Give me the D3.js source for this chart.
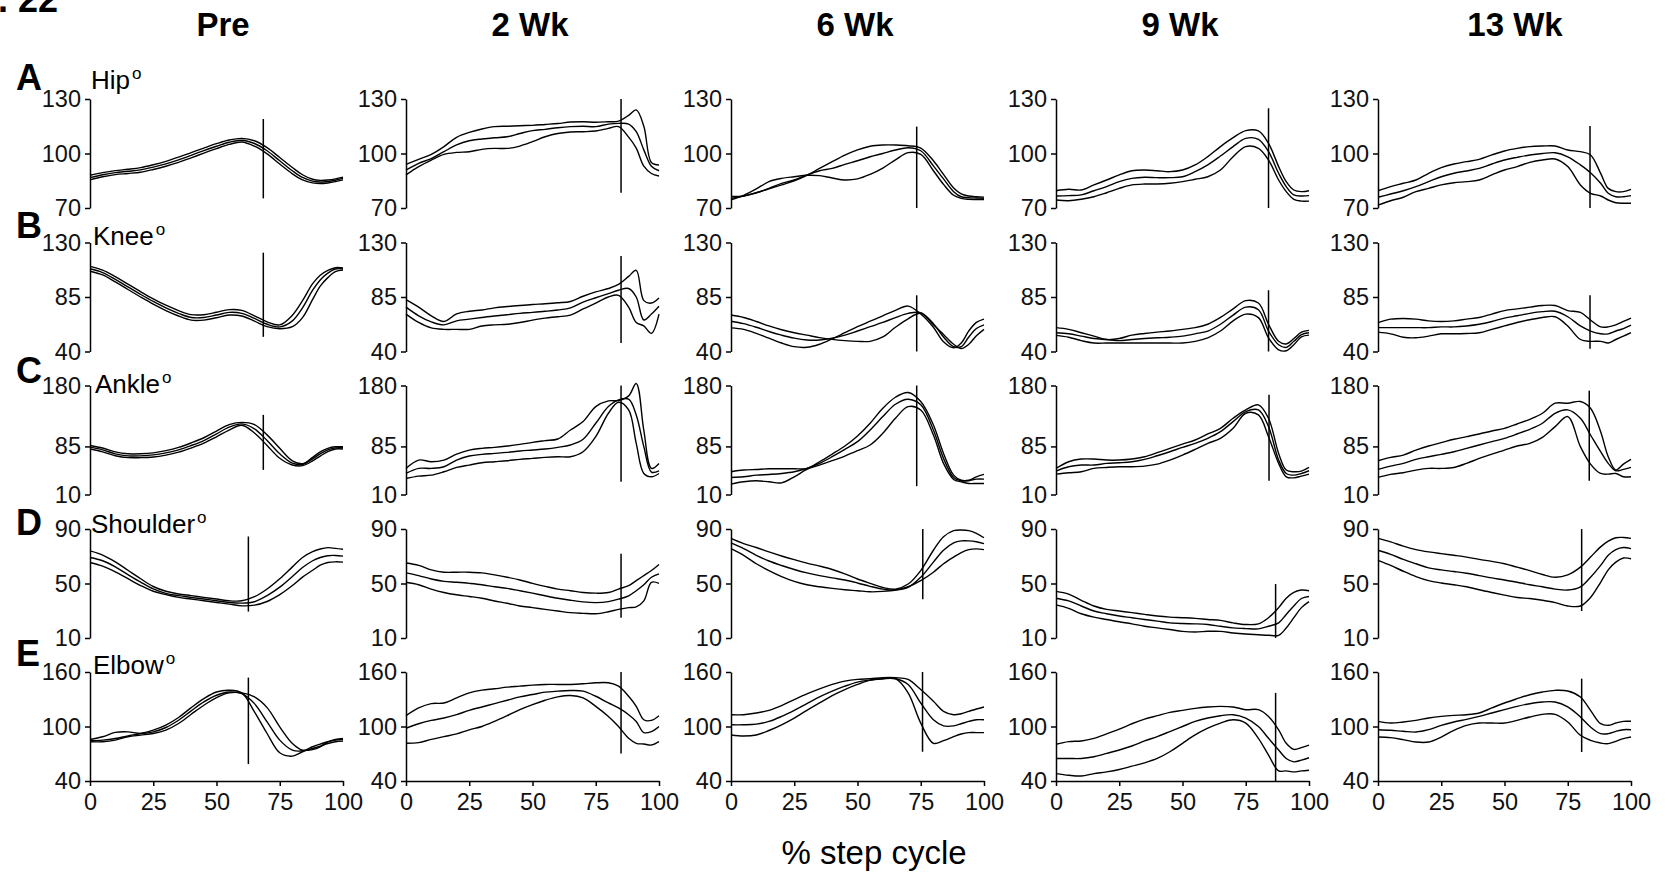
<!DOCTYPE html>
<html>
<head>
<meta charset="utf-8">
<script src="https://cdn.jsdelivr.net/npm/d3@7"></script>
<style>
  body { margin: 0; background: #fff; }
  svg { display: block; font-family: "Liberation Sans", Arial, sans-serif; }
</style>
</head>
<body>
<svg id="vis-svg"></svg>
<script>
// column (session) and row (joint) labels
var sessions = ["Pre", "2 Wk", "6 Wk", "9 Wk", "13 Wk"];
var joints = ["Hip", "Knee", "Ankle", "Shoulder", "Elbow"];
var rowLetters = ["A", "B", "C", "D", "E"];
var yTicks = [[70, 100, 130], [40, 85, 130], [10, 85, 180], [10, 50, 90], [40, 100, 160]];
var xTicks = [0, 25, 50, 75, 100];

// % step cycle sample points shared by every trace
var pct = [0, 5, 10, 15, 20, 25, 30, 35, 40, 45, 50, 55, 60, 65, 70, 75, 80, 84, 88, 91, 94, 97, 100];

// each panel: three traces (deg)
var hipPre = [
  [88, 89.5, 90.6, 91.3, 92.2, 93.8, 95.7, 98, 100.5, 103, 105.4, 107.4, 108.3, 107, 103.2, 97.8, 92.3, 88.3, 85.8, 85.2, 85.4, 86, 87],
  [86.7, 88.3, 89.5, 90.2, 91, 92.5, 94.3, 96.5, 99, 101.6, 104, 106.2, 107.3, 105.5, 101.5, 96, 90.5, 86.8, 84.8, 84.3, 84.6, 85.3, 86.3],
  [85.5, 87.2, 88.4, 89, 89.7, 91.2, 93, 95.1, 97.6, 100.2, 102.7, 105, 106.3, 104, 99.8, 94.2, 88.8, 85.5, 83.8, 83.5, 83.8, 84.5, 85.5]
];
var hip2 = [
  [94, 96.8, 99.5, 103.8, 108.9, 111.6, 113.5, 114.8, 115, 115.3, 115.5, 116, 116.5, 117.3, 117.5, 117.2, 117.5, 117.8, 121, 124, 115, 95, 93.7],
  [90.9, 94.6, 97.2, 101, 104.7, 107, 108, 108.7, 109.2, 111, 112.6, 113.3, 114.2, 114.8, 115, 114.8, 116.2, 116.6, 116.2, 112, 102, 93, 90.5],
  [88.2, 92.8, 96.4, 99.5, 100.6, 101, 102.3, 102.8, 102.8, 104.1, 106.5, 109.2, 111, 111.8, 112, 112.4, 113.8, 114.8, 109, 103, 93, 89, 87.6]
];
var hip6 = [
  [76.3, 76.6, 78.4, 80.5, 82.7, 85, 88, 91.8, 95.5, 99.1, 102, 104, 104.7, 104.7, 104.3, 103, 96, 88.5, 81, 77.8, 76.6, 76.2, 76],
  [75.3, 76.6, 78.4, 80.8, 83.6, 85.4, 88.2, 90.5, 91.8, 94, 96, 98.2, 100, 101.9, 103.2, 101.5, 93.2, 86, 79, 76.2, 75.7, 75.5, 75.3],
  [74.5, 77, 80.5, 84.5, 86.3, 87.2, 88, 87.8, 86.5, 85.4, 86, 88.5, 92, 96.5, 100.5, 99.5, 90.5, 83, 77, 75.3, 74.8, 74.7, 74.6]
];
var hip9 = [
  [79.5, 80.3, 79.9, 82.7, 85.4, 88.2, 90.5, 90.9, 90.5, 90, 90.9, 93.7, 98.3, 103.8, 108.7, 112.6, 112.4, 105.6, 92.8, 84.5, 79.9, 79, 79.5],
  [76.6, 76.8, 77.2, 79.5, 81.8, 84.5, 86.3, 86.9, 86.7, 86.7, 87.2, 90, 93.7, 98.6, 103.8, 108.3, 107.8, 101, 89.1, 81.8, 77.2, 76.6, 76.8],
  [74.4, 74, 74.8, 76.2, 78.4, 80.8, 82.7, 83.2, 83.2, 83.6, 84.5, 85.8, 87.2, 90.9, 98.2, 103.8, 102.8, 96.4, 85.4, 79, 74.8, 73.8, 73.8]
];
var hip13 = [
  [79.5, 81.8, 83.6, 85.4, 89.1, 92.2, 94.2, 95.5, 96.8, 99.2, 101.4, 102.8, 103.8, 104.1, 104.1, 101.9, 101, 99.2, 89.1, 80.8, 79, 79, 80.3],
  [75.9, 77.7, 79.5, 81.8, 84.5, 87.2, 89.1, 90.4, 91.8, 94.2, 96.4, 97.9, 99.2, 100, 100.4, 98.2, 93.7, 89.4, 83.6, 78.1, 76.2, 76.2, 76.8],
  [71.6, 74, 75.9, 79, 80.8, 82.7, 83.9, 84.5, 85.4, 88.2, 90.9, 92.8, 95.1, 96.4, 97, 92.8, 82.7, 78.1, 76.6, 74.4, 72.9, 72.6, 72.6]
];

var kneePre = [
  [110.3, 107.2, 101.8, 95.6, 89.4, 83.5, 78.2, 73.8, 70.4, 70.4, 72.4, 74.6, 74, 69.5, 64.5, 62, 70, 82, 96, 103, 107, 109.2, 109],
  [108.3, 105.2, 99.6, 93.4, 87.2, 81.3, 76, 71.5, 68.1, 68.1, 70.1, 72.3, 71.5, 67.3, 62.5, 60.3, 65.3, 76, 90.6, 99.1, 104.7, 108.1, 108.3],
  [106.3, 103.2, 97.4, 91.2, 85, 79.1, 73.8, 69.3, 65.9, 65.9, 67.9, 70.1, 69.3, 65.1, 60.5, 58.8, 60.5, 68, 83, 94, 101, 106, 107.3]
];
var knee2 = [
  [82.8, 76.6, 69.5, 64.8, 71, 73.2, 74.3, 76, 77.1, 78, 78.8, 79.4, 80.2, 81.3, 85.6, 89.2, 92, 95.4, 102, 107, 82, 80, 84.2],
  [76.6, 69.5, 64.5, 62, 65.3, 66.7, 68.1, 69.3, 70.4, 71.5, 72.3, 73.2, 74.3, 76, 80.8, 84.4, 87.8, 90.6, 92, 85, 66, 70.9, 77.4],
  [70.9, 64, 59.5, 58.3, 58.3, 58.3, 61.1, 62, 62.5, 63.9, 65.9, 67.6, 68.7, 70.1, 75.2, 79.9, 85, 86.4, 76.6, 64, 61.1, 55, 70.9]
];
var knee6 = [
  [70.1, 68.1, 64.8, 61.1, 58, 55.5, 53.5, 51.5, 50, 49, 48.4, 48.4, 52, 60, 67, 71.5, 62, 54, 46, 42.5, 46, 53, 58.3],
  [65, 63, 60, 56.5, 53.5, 51, 49.5, 49.5, 51, 53.5, 56.9, 60.5, 64, 68, 71.5, 72, 63, 52, 44, 44, 52, 59, 62],
  [59.5, 58.3, 55, 51, 47, 44, 43.5, 46, 50.5, 55.5, 60.5, 65, 69.5, 74, 77.5, 71, 60, 48, 43, 47, 57, 64, 66.7]
];
var knee9 = [
  [59.7, 58.3, 55.5, 52.7, 49.9, 50.7, 53.5, 54.9, 56, 56.9, 58.3, 59.7, 62.5, 68.1, 75.2, 82, 80, 62.5, 48.4, 46.2, 50.7, 56, 57.4],
  [55.5, 54.6, 52.7, 50.7, 49.9, 49, 49.9, 50.7, 51.3, 51.8, 52.7, 54.6, 56.9, 62.5, 70.1, 76.6, 74.5, 56.9, 45.6, 43.4, 48.4, 54, 55.5],
  [53.3, 51.8, 49, 47, 47, 47, 47, 47, 47, 47, 47, 48.4, 51.3, 56.9, 65.3, 70.9, 68, 51.3, 41.4, 40.6, 45.6, 52.1, 53.5]
];
var knee13 = [
  [63.9, 66.7, 67.3, 66.7, 65.3, 64.8, 65.3, 66.7, 68.1, 70.9, 73.8, 75.2, 76.6, 78, 78, 73.8, 72.3, 65.9, 60.3, 60.3, 62, 64.8, 67.6],
  [59.7, 59.7, 59.7, 59.7, 59.7, 60.3, 60.3, 61.1, 62.5, 64.8, 67.6, 69.5, 71.5, 72.9, 73.2, 68.7, 61.1, 56.9, 54.6, 54.6, 56.9, 58.9, 61.7],
  [56, 54.6, 51.8, 51.3, 52.7, 54.6, 54.6, 54.9, 55.5, 58.3, 61.1, 63.9, 66.2, 68.1, 68.7, 61.1, 49.9, 48.4, 48.4, 47, 49.9, 52.7, 55.5]
];

var anklePre = [
  [86.5, 82.5, 76.5, 73.5, 73.5, 75, 78.5, 83.5, 90.5, 98.5, 109, 119, 122.5, 119, 103, 82, 62.5, 58, 68, 76.5, 82, 84.5, 84.5],
  [83.8, 79.6, 73.4, 70.3, 70.3, 71.8, 75, 79.6, 86.4, 94.2, 104.6, 115, 120.2, 112.4, 94.2, 73.4, 58.8, 56.8, 65.6, 73.4, 79.6, 82.8, 82.8],
  [81, 76.5, 70.5, 67.5, 67.5, 68.5, 71.5, 76, 82.5, 90, 100, 110.5, 118, 106, 86.5, 66.5, 56, 55, 62.5, 70, 77, 81, 81]
];
var ankle2 = [
  [50.7, 63.7, 61.1, 63.7, 73.1, 79.3, 82, 83.5, 85.6, 88.2, 91.3, 94, 96.6, 110.6, 123.7, 147.1, 156, 156.5, 163.8, 183, 110, 50.7, 58.5],
  [42.8, 50.7, 50.7, 53.3, 63.7, 70, 72.6, 74.1, 75.7, 77.8, 79.3, 80.9, 83.5, 87.2, 96.1, 121.1, 147.1, 157.6, 158.6, 134, 84.6, 45, 47],
  [35, 38.7, 40.2, 45.5, 52.2, 55.9, 59.5, 61.1, 62.7, 64.8, 66.3, 67.9, 68.9, 68.9, 76.7, 100.2, 136.7, 153.9, 141.9, 89.8, 42.8, 37.6, 42.8]
];
var ankle6 = [
  [45.5, 48.1, 49.1, 50.1, 50.1, 50.1, 50.7, 61.1, 73.1, 85.6, 101.3, 121.1, 144.5, 161.7, 169, 155, 118.5, 74.1, 40.2, 32.4, 32.4, 37.6, 41.3],
  [36.6, 37.6, 40.2, 41.3, 42.8, 45.5, 50.7, 58.5, 68.9, 80.4, 92.4, 110.6, 131.5, 150.8, 158.6, 149.8, 110.6, 66.3, 36.6, 31.4, 31.4, 34, 34],
  [26.2, 29.8, 31.4, 29.8, 28.2, 37.6, 49.1, 55.9, 62.7, 70, 78.3, 87.2, 105.4, 128.9, 147.1, 141.9, 102.8, 58.5, 33.5, 29.8, 27.2, 27.2, 27.2]
];
var ankle9 = [
  [50.7, 61.1, 65.3, 65.3, 63.7, 63.7, 65.3, 68.9, 75.2, 82, 88.7, 95, 104.4, 113.2, 128.9, 141.9, 149.8, 128.9, 74.1, 48.1, 45.5, 46.5, 52.2],
  [46.5, 53.3, 55.9, 55.9, 58.5, 59.5, 61.1, 64.8, 70.5, 76.7, 83.5, 89.8, 97.6, 108, 123.7, 139.3, 141.9, 115.9, 63.7, 42.8, 40.2, 42.8, 47],
  [41.8, 43.9, 45.5, 50.7, 52.2, 53.3, 53.3, 54.3, 57.4, 63.7, 71.5, 80.4, 89.8, 97.6, 113.2, 136.7, 134.1, 100.2, 58.5, 37.6, 36, 38.7, 41.8]
];
var ankle13 = [
  [62.7, 67.9, 71.5, 79.3, 85.6, 90.8, 96.1, 100.2, 104.4, 109.1, 113.2, 120, 127.3, 136.7, 152.4, 152.4, 155, 144.5, 108, 68.9, 48.1, 57.4, 64.8],
  [49.1, 54.3, 58.5, 64.8, 68.9, 72.6, 76.7, 82, 87.2, 92.4, 97.6, 104.4, 111.7, 121.1, 136.7, 141.9, 128.9, 102.8, 76.7, 58.5, 47, 49.1, 52.2],
  [36.6, 41.3, 43.9, 48.1, 50.7, 50.7, 52.2, 58.5, 66.3, 73.1, 79.3, 85.6, 89.8, 99.2, 115.9, 131.5, 84.6, 57.4, 42.8, 41.8, 42.8, 37.6, 37.6]
];

var shoulderPre = [
  [73.9, 70.9, 65.9, 59.7, 53.5, 47.8, 44.3, 42.3, 41.1, 39.8, 38.6, 37.3, 37.3, 40.3, 46, 53.5, 62.2, 69.1, 73.4, 75.3, 76.3, 75.8, 75.1],
  [69.1, 66.7, 62.2, 56.5, 51, 46, 42.8, 41.1, 39.8, 38.6, 37.3, 36.1, 35.6, 36.6, 41.1, 47.3, 55.2, 61.7, 66.7, 69.1, 70.4, 70.6, 70.1],
  [65.4, 62.7, 58.5, 53.5, 48.5, 44.3, 41.8, 39.8, 38.6, 37.3, 36.1, 34.9, 33.6, 34.1, 36.8, 41.8, 48.5, 54.7, 59.7, 63.4, 65.4, 65.9, 65.7]
];
var shoulder2 = [
  [65, 63.3, 60, 58.3, 58.3, 58.3, 57.8, 56.3, 54.6, 52.6, 50.1, 47.9, 45.9, 44.7, 43.4, 42.9, 43.4, 45.9, 48.4, 52.1, 55.8, 59.5, 64],
  [57.8, 55.8, 53.3, 51.6, 50.9, 50.1, 49.1, 47.6, 46.4, 44.7, 42.9, 41, 39.2, 37.7, 36.5, 36, 36.7, 38.5, 41, 44.7, 49.1, 54.6, 57.1],
  [50.9, 49.1, 45.9, 43.4, 41.7, 40.5, 39.2, 37.2, 35.5, 33.5, 32.3, 31, 29.8, 28.6, 28.1, 27.8, 29.3, 31, 32.3, 32.8, 37.2, 50.9, 50.1]
];
var shoulder6 = [
  [83.1, 79.3, 76.4, 73.2, 70.2, 67.5, 65, 62.8, 60.3, 57.1, 53.3, 50.1, 47.1, 45.9, 49.6, 59.5, 74.4, 84.3, 88.8, 89.3, 88.8, 86.8, 83.6],
  [79.8, 75.6, 70.7, 66.5, 63.2, 60.3, 57.8, 55.8, 54.1, 52.6, 50.4, 47.9, 45.9, 45.2, 47.1, 54.6, 65.7, 74.4, 79.8, 81.3, 81.3, 80.6, 79.3],
  [75.6, 70.7, 64.5, 59.5, 55.1, 51.6, 49.1, 47.6, 46.4, 45.4, 44.7, 43.9, 44.2, 45.2, 47.6, 52.1, 58.3, 64.5, 69.4, 72.7, 74.9, 75.4, 74.9]
];
var shoulder9 = [
  [44.2, 42.2, 37.7, 33.5, 31, 29.8, 28.6, 27.3, 26.1, 25.3, 24.9, 24.4, 23.6, 22.9, 21.1, 19.9, 20.4, 24.9, 32.3, 39.2, 43.4, 45.2, 44.7],
  [39.2, 37.2, 33.5, 29.8, 27.8, 26.1, 24.9, 23.6, 22.4, 21.1, 20.6, 20.4, 19.9, 18.6, 17.4, 16.9, 16.7, 18.6, 21.1, 27.3, 33.5, 39, 40.5],
  [34.3, 31.8, 27.8, 25.3, 23.6, 21.9, 20.4, 18.6, 17.4, 16.2, 14.9, 14.4, 14.9, 14.9, 13.7, 12.9, 12.4, 12, 12, 17.4, 24.9, 32.3, 36.7]
];
var shoulder13 = [
  [83.1, 80.6, 77.4, 74.9, 73.2, 71.9, 70.7, 69.4, 67.7, 66.2, 64.5, 62, 59.5, 56.6, 54.6, 56.3, 62, 69.4, 76.9, 81.1, 83.6, 83.8, 83.1],
  [74.4, 71.4, 67.7, 64.5, 61.5, 60, 58.8, 57.5, 55.8, 54.1, 52.6, 50.9, 49.1, 47.6, 45.9, 45.2, 47.6, 54.6, 63.3, 70.7, 74.9, 76.4, 75.6],
  [67, 63.3, 59, 55.1, 52.1, 50.4, 49.1, 47.6, 45.4, 43.4, 41.5, 39.7, 39, 37.7, 36, 33.5, 33.5, 39.7, 50.9, 60, 65.7, 68.7, 68.2]
];

var elbowPre = [
  [84.3, 85, 86.8, 89.7, 92.3, 96, 101.5, 109.9, 120.8, 130.7, 138, 139.9, 137, 116.1, 92.3, 71.1, 67.4, 72.2, 75.8, 78.4, 81.3, 83.2, 83.9],
  [85.7, 88.7, 93.5, 94.1, 92.3, 94.1, 98.9, 106.9, 117.2, 127.1, 134.4, 138, 136.2, 125.2, 105.1, 85, 74, 73.3, 77.7, 80.6, 83.2, 85, 85.7],
  [83.2, 83.2, 85, 88.7, 90.5, 92.3, 96, 103.3, 113.5, 123.4, 131.8, 137, 137, 132.6, 120.8, 99.6, 81.3, 74, 74.7, 77.7, 83.2, 85.7, 86.8]
];
var elbow2 = [
  [111.9, 120.4, 125.2, 125.9, 131.5, 137, 140, 141.5, 143.3, 144.4, 145.6, 146.3, 146.3, 146.3, 147, 148.1, 148.1, 144.4, 133.3, 122.2, 107.4, 106.7, 111.9],
  [98.1, 103, 106.7, 109.3, 113, 117.8, 121.5, 125.2, 128.9, 132.6, 135.2, 137.8, 138.9, 139.6, 138.9, 133.3, 125.9, 120.4, 113, 105.6, 93.3, 94.4, 100],
  [81.5, 82.2, 85.9, 88.9, 91.8, 96.3, 100, 105.6, 111.9, 118.5, 124.1, 128.9, 132.6, 134.1, 131.5, 122.2, 111.1, 100, 87, 81.5, 80.7, 79.6, 83.3]
];
var elbow6 = [
  [113, 113, 114.8, 117.8, 123, 129.6, 135.9, 141.5, 146.3, 150, 151.9, 152.6, 153.7, 153.7, 151.9, 140.7, 127.8, 116.7, 113, 114.1, 116.7, 119.3, 121.5],
  [101.9, 101.9, 102.6, 105.6, 111.1, 117.8, 125.2, 132.6, 138.9, 144.4, 148.9, 151.1, 152.6, 152.6, 146.3, 125.9, 107.4, 100.7, 100.7, 103, 105.6, 107.4, 107.4],
  [90.7, 89.6, 90.7, 95.6, 101.9, 109.3, 117.8, 125.9, 134.1, 140.7, 146.3, 151.1, 152.6, 152.6, 137, 103.7, 81.5, 84.4, 88.9, 91.8, 93.3, 93.3, 93.3]
];
var elbow9 = [
  [80.4, 83.3, 84.1, 87, 91.8, 97, 103, 108.1, 111.9, 115.6, 117.8, 120, 121.5, 122.2, 121.5, 118.5, 118.5, 111.1, 96.3, 81.5, 74.8, 76.7, 79.6],
  [64.8, 64.8, 64.8, 66.7, 70.4, 74.1, 78.5, 84.1, 88.9, 94.4, 100, 105.6, 109.3, 111.9, 113, 109.3, 100, 87, 74.1, 64.8, 61.1, 63, 65.6],
  [48.1, 46.3, 45.5, 48.1, 50, 52.6, 56.3, 60, 64.8, 72.2, 81.5, 90.7, 98.1, 103.7, 107.4, 103.7, 87, 68.5, 51.1, 51.1, 50, 51.1, 51.9]
];
var elbow13 = [
  [105.7, 103.8, 105, 106.8, 109.4, 111.2, 112.3, 113, 114.9, 120.4, 125.9, 130.6, 135, 138, 139.8, 139.1, 132.5, 117.8, 103.1, 101.3, 103.8, 105.7, 105.7],
  [96.5, 95.8, 94.7, 93.9, 96.5, 101.3, 105, 107.9, 111.2, 114.9, 118.5, 122.2, 125.1, 127, 127, 121.5, 110.5, 99.4, 92.1, 92.1, 94.7, 96.5, 96.5],
  [88.4, 87.7, 85.5, 82.9, 82.9, 88.4, 95.8, 101.3, 103.8, 103.8, 103.8, 106.8, 110.5, 113.4, 113.4, 105, 90.3, 84.8, 81.8, 81.1, 83.7, 86.6, 88.4]
];

// vertical marker per panel: [% step cycle, low deg, high deg]
var hipMarks = [[68.5, 75.3, 119], [85, 78.4, 130], [73.4, 70, 114.8], [84, 70, 124.9], [83.8, 70, 115.1]];
var kneeMarks = [[68.5, 52.1, 121.6], [85, 47, 118.8], [73.4, 40, 86.4], [84, 40, 90.6], [83.8, 42.3, 86.4]];
var ankleMarks = [[68.5, 48.4, 134.2], [85, 29.8, 180], [73.4, 23, 180], [84.2, 31.4, 165.4], [83.5, 31.4, 172]];
var shoulderMarks = [[62.6, 29.4, 84.5], [85, 24.9, 71.9], [75.8, 38.5, 90], [86.8, 10, 49.6], [80.5, 29.8, 90]];
var elbowMarks = [[62.6, 58.6, 153.8], [85, 70.4, 160], [75.7, 72.2, 160], [86.8, 40, 137], [80.5, 71.9, 152.7]];

var panels = [
  [hipPre, hip2, hip6, hip9, hip13],
  [kneePre, knee2, knee6, knee9, knee13],
  [anklePre, ankle2, ankle6, ankle9, ankle13],
  [shoulderPre, shoulder2, shoulder6, shoulder9, shoulder13],
  [elbowPre, elbow2, elbow6, elbow9, elbow13]
];
var marks = [hipMarks, kneeMarks, ankleMarks, shoulderMarks, elbowMarks];

// layout
var width = 1668, height = 878;
var colX = [90, 406, 731, 1056, 1378];
var rowY = [99, 242.5, 385.5, 529, 672];
var pw = 253, ph = 109;
var titleX = [223, 530, 855, 1180, 1515];
var labelOff = [[1, -10], [3, 2], [5, 7.5], [1, 4], [3, 2]];
var letterY = [90, 238, 383, 535, 666];
var font = '"Liberation Sans", Arial, sans-serif';

var svg = d3.select('#vis-svg')
  .attr('width', width)
  .attr('height', height);

// figure number, cut off at the top edge as in the source
svg.append('text')
  .attr('x', -2).attr('y', 12)
  .attr('font-size', 36).attr('font-weight', 'bold')
  .text('. 22');

// session titles
svg.selectAll('.title')
  .data(sessions)
  .enter()
  .append('text')
  .attr('class', 'title')
  .attr('x', function(d, i){ return titleX[i]; })
  .attr('y', 36)
  .attr('text-anchor', 'middle')
  .attr('font-size', 33)
  .attr('font-weight', 'bold')
  .text(function(d){ return d; });

panels.forEach(function(row, r) {
  var yScale = d3.scaleLinear()
    .domain([yTicks[r][0], yTicks[r][2]])
    .range([rowY[r] + ph, rowY[r]]);

  // row letter and joint label
  svg.append('text')
    .attr('x', 16).attr('y', letterY[r])
    .attr('font-size', 36).attr('font-weight', 'bold')
    .text(rowLetters[r]);

  var lab = svg.append('text')
    .attr('x', colX[0] + labelOff[r][0])
    .attr('y', rowY[r] + labelOff[r][1])
    .attr('font-size', 26)
    .text(joints[r]);
  lab.append('tspan')
    .attr('font-size', 17)
    .attr('dy', -10)
    .attr('dx', 2)
    .text('o');

  row.forEach(function(traces, c) {
    var xScale = d3.scaleLinear()
      .domain([0, 100])
      .range([colX[c], colX[c] + pw]);

    var panel = svg.append('g');

    var yAxis = panel.append('g')
      .attr('transform', 'translate(' + colX[c] + ',0)')
      .call(d3.axisLeft(yScale).tickValues(yTicks[r]).tickSize(5).tickSizeOuter(0).tickPadding(4));
    yAxis.attr('font-size', 23.5).attr('font-family', font);

    if (r === panels.length - 1) {
      var xAxis = panel.append('g')
        .attr('transform', 'translate(0,' + (rowY[r] + ph) + ')')
        .call(d3.axisBottom(xScale).tickValues(xTicks).tickSize(5).tickSizeOuter(0).tickPadding(7));
      xAxis.attr('font-size', 23.5).attr('font-family', font);
    }

    panel.selectAll('.domain, .tick line')
      .attr('stroke', '#000')
      .attr('stroke-width', 1.5);
    panel.selectAll('.tick text').attr('fill', '#111');

    var line = d3.line()
      .x(function(d, i){ return xScale(pct[i]); })
      .y(function(d){ return yScale(d); })
      .curve(d3.curveCatmullRom.alpha(0.5));

    panel.selectAll('path.trace')
      .data(traces)
      .enter()
      .append('path')
      .attr('class', 'trace')
      .attr('d', line)
      .attr('fill', 'none')
      .attr('stroke', '#000')
      .attr('stroke-width', 1.4);

    // stance/swing marker
    var m = marks[r][c];
    panel.append('line')
      .attr('x1', xScale(m[0])).attr('x2', xScale(m[0]))
      .attr('y1', yScale(m[1])).attr('y2', yScale(m[2]))
      .attr('stroke', '#000')
      .attr('stroke-width', 1.5);
  });
});

svg.append('text')
  .attr('x', 874).attr('y', 864)
  .attr('text-anchor', 'middle')
  .attr('font-size', 33)
  .text('% step cycle');
</script>
</body>
</html>
